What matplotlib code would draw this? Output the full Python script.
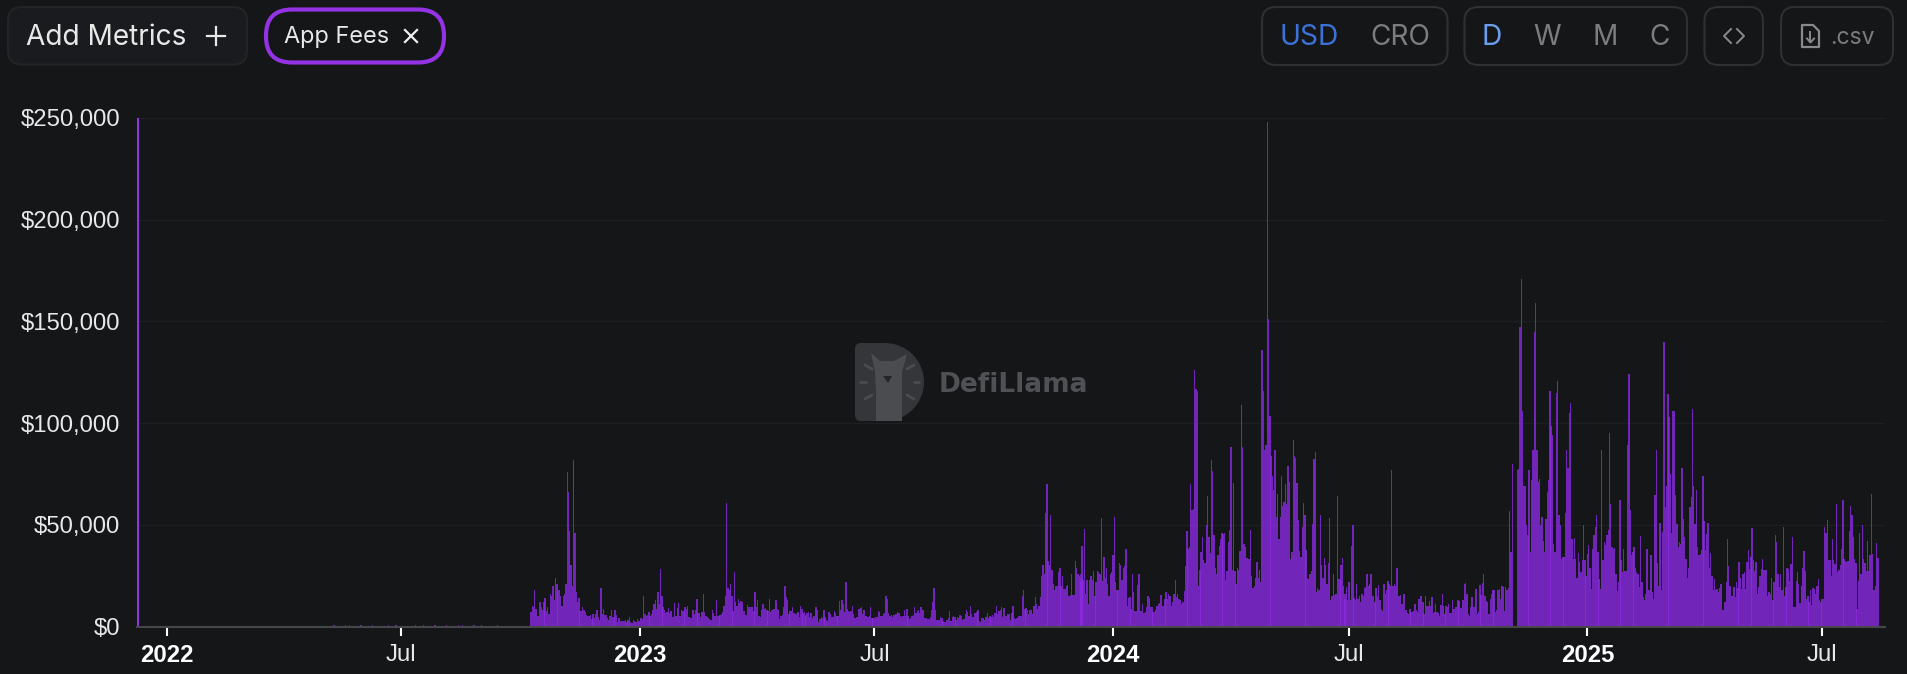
import numpy as np
import pandas as pd
import matplotlib
matplotlib.use("Agg")
from matplotlib import pyplot as plt
from matplotlib import dates as mdates
from matplotlib.patches import FancyBboxPatch, Wedge, Rectangle, Polygon

# daily app fees, thousands of USD
launch_day = [250]

dust_2022 = [0.3, 0.4, 0.3, 0.5, 0.3, 0.4, 0.8, 0.5, 0.4, 0.4, 0.5, 0.3, 0.4, 0.5, 0.4, 0.3, 0.4, 0.5,
             0.3, 0.6, 0.4, 0.3, 0.4, 0.4, 0.5, 0.4, 0.6, 0.3, 0.4, 0.5, 0.4, 0.3, 0.5, 0.4, 0.4, 0.6,
             0.5, 0.3, 0.4, 0.5, 0.4, 0.6, 0.3, 0.4, 0.4, 0.5, 0.3, 0.4, 0.3, 0.4, 0.3, 0.4, 0.3]

fees_a = [7, 10, 9.5, 18, 8.7, 5, 5, 12, 9.5, 8, 12, 14, 7.5, 9.5, 6, 16, 15, 20, 13, 24, 21, 18, 18, 15, 10, 15,
          16, 21, 76, 66, 47, 30, 20, 82, 46, 17, 12, 14, 7.5, 7.5, 9.5, 8, 7, 5.5, 5, 5, 5.5, 3.5, 6, 4, 6, 8,
          4.5, 3, 19, 6, 8.5, 5.5, 5.5, 4, 3, 5, 8, 4.5, 4.5, 8, 5.5, 2, 4, 2.6, 2.6, 2.6, 2.6, 3.2, 2.4, 3, 4.5,
          2, 1.6, 3.3, 2.5, 2.1, 3.8, 2.5, 2.6, 4, 3.8, 15, 6.2, 5, 5.8, 7, 5, 6.2, 8, 11, 13, 8.7, 17, 11, 28.5, 15,
          9.5, 8, 6.6, 7, 9, 6.6, 7.4, 4.6, 4.9, 11.5, 5.4, 9, 11.5, 5, 8.2, 7.4, 7.5, 9.5, 8.7, 10.3, 4.6, 4.3, 4,
          8.2, 6.2, 8, 13.6, 6.6, 6.6, 4.6, 7, 16, 7, 5.4, 4.6, 4, 3.6, 3, 8.2, 6.6, 5.4, 13, 5.2, 5.2, 5.6, 6.2, 7,
          10.3, 15, 60.7, 19, 17.7, 21, 14.8, 7.4, 27, 12, 10.3, 13.6, 11.5, 12.5, 12, 7.6, 7.4, 5.8, 10.8, 9.5,
          9.8, 9.5, 9.5, 7.4, 17, 9.5, 12.8, 5.4, 4.6, 7.9, 11.2, 8.7, 9, 7.9, 7.4, 13.3, 7, 8.2, 8.5, 8.7, 12.8,
          8.5, 8.2, 3.8, 5.4, 5.8, 9.5, 20, 14.4, 12.8, 5.9, 7.6, 7.6, 9.8, 6.6, 6.2, 6.2, 7, 4.9, 10.3, 8.4, 6.8,
          7.2, 5.5]

fees_b = [5.4, 6.6, 7, 4.6, 6.7, 4.3, 5.4, 5.4, 9.8, 7.9, 2.1, 3.8, 4.9, 4.3, 7.9, 4.9, 3, 2.5, 6.9, 5.9, 4.9, 4.9,
          7.5, 6.6, 5.1, 5.4, 12.5, 8.2, 13, 11.2, 6.9, 22, 8.7, 7.4, 6.9, 7.4, 10, 6.2, 4.3, 4.6, 4.9, 8.7, 9.2,
          9.5, 5.9, 8.2, 5.4, 5.1, 4.9, 5.4, 9.5, 4.3, 4.3, 4.1, 4.6, 4.9, 7.4, 6.9, 5.4, 5.2, 6.2, 6.4, 15, 13.3,
          6.6, 5.4, 5.6, 4.9, 5.6, 6.2, 6.2, 7, 6.6, 5.4, 4.9, 5.2, 7.9, 5.1, 8.7, 5.4, 3.8, 4.3, 5.4, 5.6, 9.8, 6.6,
          7.5, 7.9, 6.6, 9.5, 8.2, 7.9, 4.3, 4.3, 3.8, 3.8, 4.6, 8.2, 12, 19, 7.9, 3.4, 3.3, 3.3, 4.9, 4.3, 2.6, 2.3,
          2.3, 3, 4.3, 7.4, 2.6, 4.9, 5.1, 4.9, 3, 4.9, 4.3, 5.6, 5.1, 3.3, 3.8, 5.9, 7.9, 7, 5.4, 10.3, 6.2, 4.9, 6.6,
          6.7, 7, 7.9, 2.6, 2.1, 4.1, 4.1, 3, 4.6, 6.6, 4.3, 5.2, 4.8, 5.5, 4.6, 6.6, 10.3, 6.2, 7.5, 8.2, 9.8, 4.6,
          9.2, 5.4, 5.4, 5.9, 6.2, 3, 6.6, 10.3, 4.1, 3.8, 4.3, 5.2, 5.1, 5.4, 15, 18, 8.7, 9, 8.2, 6.2, 8.2, 8.2, 6.2,
          10.3, 14.4, 11.2, 8.7, 10.3, 14.4, 24.6, 30, 25.6, 56, 70, 32, 30, 55, 28, 21, 18, 20, 20, 27, 29, 20, 24.6,
          18.5, 18.5, 20, 20.5, 14.8, 15.7, 26, 15.7, 15.7, 32, 29, 25.6, 25, 22, 24]

fees_c = [26, 39.5, 23, 48, 16, 23, 11, 23, 25, 23, 27.5, 15, 22, 27.5, 27, 25.6, 53.5, 22.6, 34, 24, 29, 21, 15, 26,
          27, 35, 54, 22, 18, 18, 31, 30, 23, 29, 29.5, 38, 10, 14, 14.4, 8.7, 26, 17, 7.5, 7.5, 20.5, 25.6, 7.5,
          7.5, 11, 6.6, 7, 9.5, 15, 14, 9.5, 9.8, 7, 7, 7.9, 10, 11, 11.5, 15.6, 10, 10, 13.6, 17, 13.6, 16, 15, 10,
          12, 16, 23, 14.4, 16, 13.6, 13, 11, 12, 17.4, 29.5, 47, 38, 39, 70, 57.5, 58, 126, 117, 116, 20, 28, 36.6,
          44, 32.5, 31, 50, 64, 44, 36, 81.7, 76.4, 45, 29, 26, 35, 39.5, 43, 46, 45.6, 46, 23, 27.5, 41.5, 47.6, 88,
          28, 70.7, 27.5, 21, 29, 28, 37, 108.7, 88, 40.7, 39, 33.8, 33.8, 33, 47.6, 25, 19, 20, 24, 31.5, 24, 28, 22,
          136, 115.6, 87, 89, 248, 151, 103.5, 84, 74, 67, 87, 54, 65, 43, 54, 74, 59, 61, 70, 60, 79, 71, 33, 36.6,
          91.5, 84, 83, 70.7, 52.6, 37, 34, 49, 60.7, 55, 37.7, 24, 23.5, 25.6, 27.5, 50.5, 82.5, 86, 17, 19, 18, 55,
          30, 24, 33.8, 30, 21, 31, 53.5, 12.8, 15, 26, 15.6, 16, 64, 23.5, 23.5, 30, 33.8, 20, 16]

fees_d = [13.3, 19.4, 13, 22, 13, 39.5, 50, 14, 13, 21, 13.6, 15, 12, 16, 15, 19, 19.4, 26, 20, 21, 26, 15, 15, 12, 19,
          15, 20.5, 13, 8.7, 7.4, 21, 16, 18, 22.6, 21, 20, 76.7, 19.7, 21, 20, 29, 15, 15, 15.6, 11, 16, 16, 8, 6.6,
          6.2, 8.7, 7, 7, 7.5, 11, 8, 7, 13.6, 15, 15, 12, 6.2, 15, 10, 10, 12.5, 10, 14.3, 6.6, 7, 11, 7, 6.7, 5, 10.8,
          16, 10.3, 6.2, 10, 9.8, 11, 6.6, 6.6, 12.8, 8.7, 9.8, 9.5, 13, 12.5, 9, 9, 13, 21, 21.6, 16, 6.2, 5.4, 9.8,
          14.4, 9.8, 9.8, 18.5, 6.2, 7, 20.5, 15.6, 21.5, 25.6, 15, 12.3, 12, 6.2, 13.6, 16, 17.7, 17.7, 7, 8, 18, 18.5,
          13.3, 20, 19.4, 7.4, 19.4, 17.7, 19, 56.6, 36.6, 80]

fees_e = [77, 77.5, 147, 171, 106, 69, 69, 50, 45, 77, 36.6, 72, 86.6, 145, 158.8, 87, 71, 72.6, 50, 54, 42, 36.6, 53,
          66, 72, 116, 98.6, 94, 40.7, 36.6, 115, 120.5, 55, 50, 33, 34, 34, 56, 86.6, 78, 105, 110, 43, 33, 43.6, 33,
          24, 36, 31.6, 26.7, 32.5, 50, 32.5, 25, 35.7, 40, 29, 18.5, 38, 45, 49, 55, 36.6, 23.5, 18.5, 87, 32.5, 41.5,
          40, 45, 47.6, 95, 60, 39, 38, 38.5, 26, 17.4, 21.8, 62, 32.8, 26.7, 38, 27.5, 27.5, 89, 124, 57.4, 35, 36.6,
          39, 29, 26.7, 25.6, 19.4, 44.4, 21.8, 14.4, 12.8, 16, 38, 17.7, 17.7, 35, 17, 13.6, 64.5, 86.6, 31, 20, 51,
          17.7, 46.4, 140, 58.7, 69, 114.5, 103, 75, 46, 106, 106, 64.5, 50.5, 39, 41.5, 40.7, 78, 53, 44, 33, 24, 29,
          58.7, 63.6, 107, 69, 50.5, 67, 39, 35, 35.7, 37.4, 74, 52, 37.4, 45.6, 51, 29, 36, 25, 17.7, 23.5, 17.7, 18.5,
          17, 19, 21, 8.2, 8.2, 12, 21.8, 43, 29.5, 20, 15, 15, 19.4, 14.4, 21.8, 19, 31.6, 24, 18.5, 26, 26.7, 18.5,
          31.6, 37.4, 28.4, 34, 48.5, 32.5, 27.5, 31.6, 16, 19.4, 25, 28.4, 33, 27.9, 28, 28, 15, 17, 16, 23.8, 12.8,
          21.8, 44.8, 41.5, 26, 19.4, 25.6, 17.7, 49, 15, 19.4, 29, 28.4, 22.6, 30.8, 44, 9.5, 9.5, 22.6, 26.7, 21, 11.5,
          20, 29, 37, 27.5, 13.6, 15, 12, 17.7, 10.8, 19, 18.5, 16, 19.7, 23.5, 12.8, 12, 13.6, 13.6, 49, 46, 52.5, 32.8,
          32.5, 25, 43, 32.5, 30.8, 60.4, 26.7, 28, 30, 38, 62, 33, 32, 31.6, 32, 47, 59, 55, 44, 33, 31, 8.7, 22.6, 46,
          26, 50, 33, 31, 27.5, 42, 27.5, 35, 65, 35.7, 17.7, 19.7, 41, 33.8]

y_ticks = [0, 50000, 100000, 150000, 200000, 250000]
y_labels = ["$0", "$50,000", "$100,000", "$150,000", "$200,000", "$250,000"]
x_ticks = ["2022-01-01", "2022-07-01", "2023-01-01", "2023-07-01", "2024-01-01", "2024-07-01", "2025-01-01", "2025-07-01"]
x_labels = ["2022", "Jul", "2023", "Jul", "2024", "Jul", "2025", "Jul"]

BG = "#141618"
W, H = 1908, 674

dates = np.concatenate([
    pd.date_range("2022-05-01", periods=len(dust_2022), freq="3D"),
    pd.date_range("2022-10-09", periods=len(fees_a)),
    pd.date_range("2023-05-09", periods=len(fees_b)),
    pd.date_range("2023-12-07", periods=len(fees_c)),
    pd.date_range("2024-06-28", periods=len(fees_d)),
    pd.date_range("2024-11-08", periods=len(fees_e)),
])
values = np.array(dust_2022 + fees_a + fees_b + fees_c + fees_d + fees_e) * 1000

fig = plt.figure(figsize=(W / 100, H / 100), dpi=100, facecolor=BG)
ax = fig.add_axes([137 / W, (H - 626.5) / H, (1885 - 137) / W, 518.7 / H], facecolor=BG)
ax.bar(mdates.date2num(dates), values, width=1.05, color="#8a2be2", alpha=0.8, linewidth=0, zorder=3)
ax.bar(mdates.date2num(pd.Timestamp("2021-12-10")), launch_day[0] * 1000, width=1.6, color="#9333e4",
       linewidth=0, zorder=3)

ax.set_xlim(mdates.date2num(pd.Timestamp("2021-12-09 04:00")), mdates.date2num(pd.Timestamp("2025-08-18 12:00")))
ax.set_ylim(0, 255000)
ax.set_yticks(y_ticks)
ax.set_yticklabels(y_labels, family="Liberation Sans", fontsize=17.2, color="#e8e8e8")
ax.set_xticks(mdates.date2num(pd.to_datetime(x_ticks)))
ax.set_xticklabels(x_labels, family="Liberation Sans", fontsize=17.2, color="#e8e8e8")
for lab in ax.get_xticklabels():
    if lab.get_text() != "Jul":
        lab.set_fontweight("bold")
        lab.set_color("white")
ax.tick_params(axis="y", length=0, pad=12)
ax.tick_params(axis="x", length=6.5, width=1.5, color="white", pad=6)
ax.grid(axis="y", color="#1d1f22", linewidth=1, zorder=0)
for s in ["top", "left", "right"]:
    ax.spines[s].set_visible(False)
ax.spines["bottom"].set_color("#45474a")
ax.spines["bottom"].set_linewidth(1.5)
ax.spines["bottom"].set_zorder(4)

# toolbar and watermark, in pixel coordinates
ui = fig.add_axes([0, 0, 1, 1], facecolor="none")
ui.set_xlim(0, W)
ui.set_ylim(H, 0)
ui.axis("off")


def box(x0, y0, x1, y1, r=14, ec="#2e3033", fc="none", lw=1.5):
    ui.add_patch(FancyBboxPatch((x0, y0), x1 - x0, y1 - y0, boxstyle=f"round,pad=0,rounding_size={r}",
                                ec=ec, fc=fc, lw=lw))


def label(x, txt, size=20.2, color="#e8e8e8", ha="center", y=37.5):
    ui.text(x, y, txt, family="Inter", fontsize=size, color=color, ha=ha, va="center")


box(8, 7, 247, 64.5, ec="#222428", fc="#191b1e")
label(26, "Add Metrics", ha="left")
ui.plot([207, 225], [36, 36], color="#e8e8e8", lw=1.6)
ui.plot([216, 216], [27, 45], color="#e8e8e8", lw=1.6)

box(266, 9.5, 444, 62.5, r=26, ec="#9333e4", lw=3)
label(284.5, "App Fees", size=16.9, ha="left")
ui.plot([405, 417], [30, 42], color="#f0f0f0", lw=1.6)
ui.plot([405, 417], [42, 30], color="#f0f0f0", lw=1.6)

box(1262, 7, 1447.5, 65)
label(1309, "USD", color="#3b72d9")
label(1400, "CRO", color="#7d7d7d")

box(1464.5, 7, 1687, 65)
label(1492, "D", color="#6c9ff0")
label(1547, "W", color="#7d7d7d")
label(1605, "M", color="#7d7d7d")
label(1660, "C", color="#7d7d7d")

box(1704.5, 7, 1763, 65)
ui.plot([1731, 1724, 1731], [29, 36, 43], color="#8a8a8a", lw=1.4)
ui.plot([1737, 1744, 1737], [29, 36, 43], color="#8a8a8a", lw=1.4)

box(1781, 7, 1893, 65)
ui.add_patch(Polygon([(1802, 25), (1813, 25), (1819, 31), (1819, 47), (1802, 47)], closed=True,
                     fc="none", ec="#8a8a8a", lw=1.6, joinstyle="round"))
ui.plot([1810.5, 1810.5], [32, 42], color="#8a8a8a", lw=1.4)
ui.plot([1807, 1810.5, 1814], [38.5, 42.5, 38.5], color="#8a8a8a", lw=1.4)
label(1830, ".csv", size=16.5, color="#7d7d7d", ha="left")

# DefiLlama mark
logo_fc = "#343639"
llama_fc = "#4b4c4f"
ui.add_patch(Wedge((885, 382), 39, -90, 90, fc=logo_fc, lw=0))
ui.add_patch(FancyBboxPatch((855, 343), 30, 78, boxstyle="round,pad=0,rounding_size=6", fc=logo_fc, lw=0))
ui.add_patch(Rectangle((872, 343), 13, 78, fc=logo_fc, lw=0))
ui.add_patch(Polygon([(871, 353), (880, 361), (894, 361), (907, 354), (902, 372), (902, 392), (902, 421),
                      (876, 421), (876, 392), (875, 372)], closed=True, fc=llama_fc, lw=0))
ui.add_patch(Polygon([(883, 376), (892, 376), (888, 383)], closed=True, fc="#242528", lw=0))
for x0, y0, x1, y1 in [(865, 365, 872, 369), (907, 369, 914, 365), (860, 382, 866, 382), (914, 382, 919, 382),
                       (865, 399, 872, 395), (907, 395, 914, 399)]:
    ui.plot([x0, x1], [y0, y1], color=llama_fc, lw=2, solid_capstyle="round")
ui.text(938.5, 385, "DefiLlama", family="DejaVu Sans", weight="bold", fontsize=19, color="#505154", ha="left", va="center")

fig.savefig("out.png", dpi=100, facecolor=BG)
